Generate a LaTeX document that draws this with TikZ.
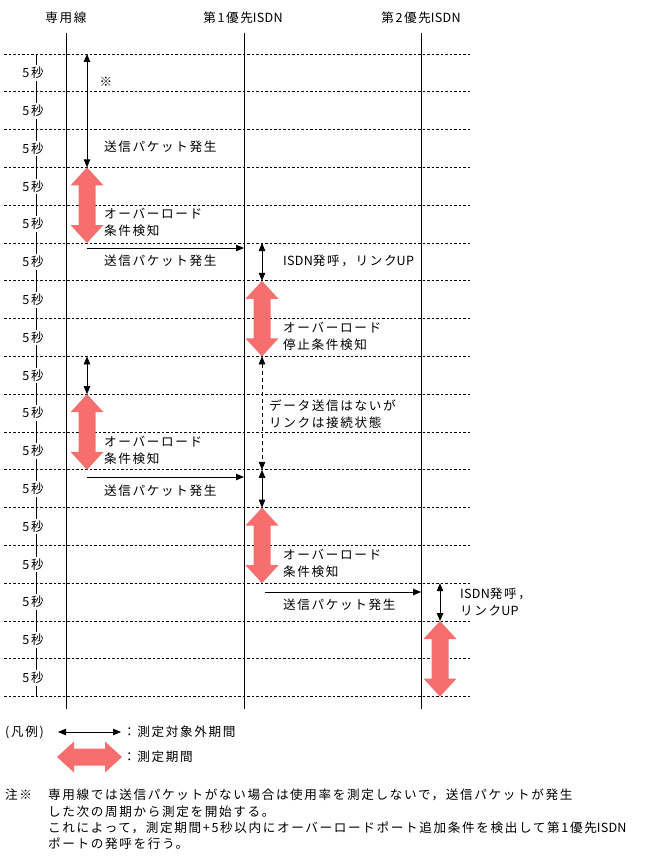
\documentclass[tikz,border=0pt]{standalone}
\usepackage{fontspec}
\setmainfont{Noto Sans CJK JP}[LetterSpace=13]
\newfontfamily\latn{Noto Sans CJK JP}[LetterSpace=2]
\newcommand\La[1]{{\latn #1}}
\usetikzlibrary{arrows.meta}
\definecolor{measred}{HTML}{F76E6E}
\newcommand\RedV[3]{%
  \fill[measred] (#1,#2) -- (#1+16.5,#2+18) -- (#1+8.5,#2+18) -- (#1+8.5,#3-18)
   -- (#1+16.5,#3-18) -- (#1,#3) -- (#1-16.5,#3-18) -- (#1-8.5,#3-18)
   -- (#1-8.5,#2+18) -- (#1-16.5,#2+18) -- cycle;}
\newcommand\RedH[3]{%
  \fill[measred] (#2,#1) -- (#2+17,#1-15.5) -- (#2+17,#1-8.5) -- (#3-17,#1-8.5)
   -- (#3-17,#1-15.5) -- (#3,#1) -- (#3-17,#1+15.5) -- (#3-17,#1+8.5)
   -- (#2+17,#1+8.5) -- (#2+17,#1+15.5) -- cycle;}
\begin{document}
\begin{tikzpicture}[x=1pt,y=-1pt,
  every node/.style={font=\fontsize{12.6}{17}\selectfont, inner sep=0pt},
  grid/.style={line width=0.7pt, dash pattern=on 2.5pt off 2pt},
  life/.style={line width=1pt},
  thinarr/.style={line width=0.8pt, {Triangle[length=8pt,width=6.5pt]}-{Triangle[length=8pt,width=6.5pt]}},
  msg/.style={line width=0.8pt, -{Triangle[length=8pt,width=6.5pt]}},
  lbl/.style={anchor=west, align=left},
  sec/.style={fill=white, inner sep=2pt}]
\useasboundingbox (0,0) rectangle (650,864);
% headers
\node (h1) at (66,18) {専用線};
\node (h2) at (243,18) {第1優先\La{ISDN}};
\node (h3) at (421,18) {第2優先\La{ISDN}};
% lifelines
\coordinate (l1t) at (66,33); \coordinate (l1b) at (66,709);
\coordinate (l2t) at (244,33); \coordinate (l2b) at (244,709);
\coordinate (l3t) at (421,33); \coordinate (l3b) at (421,709);
\draw[life] (l1t) -- (l1b);
\draw[life] (l2t) -- (l2b);
\draw[life] (l3t) -- (l3b);
% grid
\foreach \i in {0,...,17} \draw[grid] (4,54+37.8*\i) -- (471,54+37.8*\i);
% time axis
\coordinate (tat) at (36,54); \coordinate (tab) at (36,697);
\draw[line width=0.8pt] (tat) -- (tab);
\foreach \i in {0,...,16} \node[sec] (s\i) at (33,73+37.8*\i) {5秒};
% arrows (Y(k)=54+37.8k)
\draw[thinarr] (87,54) -- (87,167.4);
\node (ast) at (106,82) {※};
\node[lbl] (t1) at (104,147) {送信パケット発生};
\RedV{87}{167.4}{243}
\node[lbl] (t2) at (104,222.5) {オーバーロード\\条件検知};
\coordinate (m1a) at (87,248); \coordinate (m1b) at (244,248);
\draw[msg] (m1a) -- (m1b);
\node[lbl] (t3) at (104,261) {送信パケット発生};
\draw[thinarr] (262,243) -- (262,280.8);
\node[lbl] (t4) at (283,261) {\La{ISDN}発呼，リンク\La{UP}};
\RedV{262}{280.8}{356.4}
\node[lbl] (t5) at (283,336.5) {オーバーロード\\停止条件検知};
\draw[thinarr] (87,356.4) -- (87,394.2);
\RedV{87}{394.2}{469.8}
\node[lbl] (t6) at (104,450.5) {オーバーロード\\条件検知};
\draw[thinarr, dash pattern=on 4pt off 3pt] (262,356.4) -- (262,469.8);
\node[lbl, fill=white, inner sep=1pt] (t7) at (268,414) {データ送信はないが\\リンクは接続状態};
\coordinate (m2a) at (87,477); \coordinate (m2b) at (244,477);
\draw[msg] (m2a) -- (m2b);
\node[lbl] (t8) at (104,491) {送信パケット発生};
\draw[thinarr] (262,469.8) -- (262,507.6);
\RedV{262}{507.6}{583.2}
\node[lbl] (t9) at (283,563.5) {オーバーロード\\条件検知};
\coordinate (m3a) at (265,592); \coordinate (m3b) at (421,592);
\draw[msg] (m3a) -- (m3b);
\node[lbl] (t10) at (283,605) {送信パケット発生};
\draw[thinarr] (440,583.2) -- (440,621);
\node[lbl] (t11) at (460,601.5) {\La{ISDN}発呼，\\リンク\La{UP}};
\RedV{440}{621}{696.6}
% legend
\node[lbl] (lg) at (5,732) {(凡例)};
\coordinate (lga) at (58,732); \coordinate (lgb) at (121,732);
\draw[thinarr] (lga) -- (lgb);
\node[lbl] (lg1) at (123,732) {：測定対象外期間};
\RedH{757}{57}{122}
\node[lbl] (lg2) at (123,757) {：測定期間};
% note
\node[anchor=north west] (n0) at (5,789) {注※};
\node[anchor=north west, align=left, font=\fontsize{12.6}{16.2}\selectfont] (n1) at (48,789) {専用線では送信パケットがない場合は使用率を測定しないで，送信パケットが発生\\した次の周期から測定を開始する。\\これによって，測定期間+5秒以内にオーバーロードポート追加条件を検出して第1優先\La{ISDN}\\ポートの発呼を行う。};
\end{tikzpicture}
\end{document}
